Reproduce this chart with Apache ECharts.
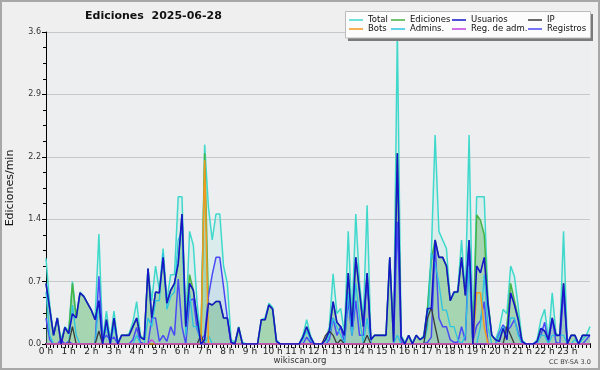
<!DOCTYPE html>
<html>
<head>
<meta charset="utf-8">
<script src="https://cdn.jsdelivr.net/npm/echarts@6/dist/echarts.min.js"></script>
<style>
html, body { margin: 0; padding: 0; background: #efefef; }
#chart { width: 600px; height: 370px; }
</style>
</head>
<body>
<div id="chart"></div>
<script>
// un punto cada 10 minutos, de 0 h a 24 h (145 puntos)
var paso = 10
var titulo = 'Ediciones  2025-06-28'

var total = [
    0.99, 0.45, 0.1, 0.3, 0.05, 0.2,
    0.15, 0.72, 0.32, 0.6, 0.55, 0.47,
    0.39, 0.3, 1.27, 0.05, 0.38, 0.05,
    0.38, 0.02, 0.1, 0.1, 0.12, 0.25,
    0.49, 0.1, 0.05, 0.87, 0.5, 0.9,
    0.62, 1.1, 0.5, 0.8, 0.8, 1.7,
    1.7, 0.2, 1.3, 1.14, 0.47, 0.05,
    2.3, 1.58, 1.2, 1.5, 1.5, 0.9,
    0.7, 0.05, 0.02, 0.2, 0.02, 0,
    0, 0, 0, 0.28, 0.3, 0.47,
    0.42, 0.05, 0, 0, 0, 0,
    0, 0, 0.1, 0.28, 0.1, 0,
    0, 0, 0.05, 0.2, 0.81, 0.35,
    0.41, 0.12, 1.3, 0.3, 1.5, 0.7,
    0.3, 1.6, 0.05, 0.1, 0.1, 0.1,
    0.1, 1.0, 0.05, 3.6, 0.1, 0.02,
    0.1, 0.02, 0.1, 0.05, 0.1, 0.43,
    1.05, 2.41, 1.3, 1.2, 1.1, 0.5,
    0.58, 0.62, 1.2, 0.58, 2.41, 0.03,
    1.7, 1.7, 1.7, 0.49, 0.1, 0.05,
    0.18, 0.4, 0.35, 0.9, 0.78, 0.43,
    0.05, 0, 0, 0, 0.05, 0.28,
    0.4, 0.05, 0.59, 0.12, 0.1, 1.3,
    0, 0.1, 0.1, 0, 0.1, 0.1,
    0.2
]
var ediciones = [
    0.7, 0.4, 0.1, 0.3, 0, 0.19,
    0.12, 0.7, 0.3, 0.59, 0.55, 0.47,
    0.39, 0.28, 0.5, 0, 0.28, 0,
    0.3, 0, 0.1, 0.1, 0.1, 0.2,
    0.3, 0.08, 0.05, 0.87, 0.3, 0.6,
    0.59, 1.0, 0.47, 0.62, 0.7, 0.93,
    1.5, 0.2, 0.8, 0.62, 0.3, 0,
    2.2, 0.47, 0.45, 0.49, 0.49, 0.3,
    0.3, 0.02, 0, 0.19, 0, 0,
    0, 0, 0, 0.28, 0.28, 0.45,
    0.4, 0.03, 0, 0, 0, 0,
    0, 0, 0.08, 0.2, 0.08, 0,
    0, 0, 0.05, 0.15, 0.49, 0.25,
    0.2, 0.1, 0.82, 0.2, 1.0, 0.6,
    0.2, 0.82, 0.05, 0.1, 0.1, 0.1,
    0.1, 1.0, 0.03, 2.2, 0.08, 0,
    0.1, 0, 0.1, 0.05, 0.08, 0.41,
    0.97, 1.2, 1.0, 1.0, 0.9, 0.5,
    0.6, 0.6, 1.0, 0.56, 1.2, 0,
    1.49, 1.43, 1.26, 0.49, 0.1, 0.05,
    0.05, 0.18, 0.2, 0.7, 0.5, 0.3,
    0.03, 0, 0, 0, 0.03, 0.18,
    0.15, 0.05, 0.3, 0.1, 0.1, 0.7,
    0, 0.1, 0.1, 0, 0.1, 0.1,
    0.1
]
var usuarios = [
    0.7, 0.4, 0.1, 0.3, 0, 0.19,
    0.12, 0.35, 0.3, 0.59, 0.55, 0.47,
    0.39, 0.28, 0.5, 0, 0.28, 0,
    0.3, 0, 0.1, 0.1, 0.1, 0.2,
    0.3, 0.08, 0.05, 0.87, 0.3, 0.6,
    0.59, 1.0, 0.47, 0.62, 0.7, 0.93,
    1.5, 0.2, 0.7, 0.62, 0.3, 0,
    0.05, 0.47, 0.45, 0.49, 0.49, 0.3,
    0.3, 0.02, 0, 0.19, 0, 0,
    0, 0, 0, 0.28, 0.28, 0.45,
    0.4, 0.03, 0, 0, 0, 0,
    0, 0, 0.08, 0.2, 0.08, 0,
    0, 0, 0.05, 0.15, 0.49, 0.25,
    0.2, 0.1, 0.82, 0.2, 1.0, 0.6,
    0.2, 0.82, 0.05, 0.1, 0.1, 0.1,
    0.1, 1.0, 0.03, 2.2, 0.08, 0,
    0.1, 0, 0.1, 0.05, 0.08, 0.41,
    0.41, 1.2, 1.0, 1.0, 0.9, 0.5,
    0.6, 0.6, 1.0, 0.56, 1.2, 0,
    0.9, 0.82, 1.0, 0.45, 0.1, 0.05,
    0.03, 0.18, 0.05, 0.59, 0.45, 0.28,
    0.03, 0, 0, 0, 0.03, 0.18,
    0.15, 0.05, 0.3, 0.1, 0.1, 0.7,
    0, 0.1, 0.1, 0, 0.1, 0.1,
    0.1
]
var registros = [
    0.3, 0.05, 0, 0, 0.05, 0,
    0.03, 0, 0, 0, 0, 0,
    0, 0, 0.78, 0.05, 0.1, 0.05,
    0.08, 0, 0, 0, 0, 0.05,
    0.19, 0.02, 0, 0, 0.3, 0.3,
    0.03, 0.1, 0.03, 0.2, 0.1, 0.75,
    0.2, 0, 0.5, 0.52, 0.17, 0.05,
    0.1, 0.55, 0.8, 1.0, 1.0, 0.66,
    0.3, 0, 0, 0, 0, 0,
    0, 0, 0, 0, 0, 0,
    0, 0, 0, 0, 0, 0,
    0, 0, 0, 0.08, 0.02, 0,
    0, 0, 0, 0.05, 0.3, 0.1,
    0.2, 0.02, 0.5, 0.1, 0.5, 0.1,
    0.1, 0.8, 0, 0, 0, 0,
    0, 0, 0, 1.41, 0.02, 0,
    0, 0, 0, 0, 0, 0.02,
    0.08, 1.16, 0.3, 0.2, 0.2, 0.05,
    0.02, 0.02, 0.2, 0.04, 1.16, 0.03,
    0.21, 0.27, 0.49, 0, 0, 0,
    0.13, 0.22, 0.15, 0.2, 0.28, 0.13,
    0.02, 0, 0, 0, 0.02, 0.1,
    0.25, 0, 0.29, 0.02, 0, 0.6,
    0, 0, 0, 0, 0, 0.05,
    0.1
]
var admins = [
    0.6, 0.1, 0, 0, 0, 0,
    0, 0.45, 0.1, 0, 0, 0,
    0, 0, 0.5, 0, 0.2, 0,
    0.2, 0, 0, 0, 0, 0,
    0.1, 0, 0, 0.3, 0.2, 0.5,
    0.5, 1.05, 0.4, 0.55, 0.6, 1.2,
    1.3, 0.1, 0.6, 0.2, 0.2, 0,
    0, 0.1, 0, 0, 0, 0,
    0, 0, 0, 0, 0, 0,
    0, 0, 0, 0, 0, 0,
    0, 0, 0, 0, 0, 0,
    0, 0, 0.05, 0.15, 0.05, 0,
    0, 0, 0, 0.1, 0.3, 0.2,
    0.1, 0, 0.6, 0.1, 0.7, 0.3,
    0, 0.3, 0, 0, 0, 0,
    0, 0, 0, 0.1, 0, 0,
    0, 0, 0, 0, 0, 0.2,
    1.05, 0.93, 0.7, 0.39, 0.39, 0.2,
    0.2, 0.05, 0, 0.1, 0.9, 0,
    0, 0.2, 0.8, 0.2, 0, 0,
    0.1, 0.2, 0.1, 0.3, 0.3, 0.1,
    0, 0, 0, 0, 0, 0.1,
    0.1, 0, 0.1, 0.1, 0.1, 0.1,
    0, 0, 0.05, 0, 0.05, 0.1,
    0.1
]
var ip = [
    0, 0, 0, 0, 0, 0,
    0, 0.2, 0, 0, 0, 0,
    0, 0, 0.15, 0, 0, 0,
    0, 0, 0, 0, 0, 0,
    0, 0, 0, 0, 0, 0,
    0, 0, 0, 0, 0, 0,
    0, 0, 0, 0, 0, 0.1,
    0, 0, 0, 0, 0, 0,
    0, 0, 0, 0, 0, 0,
    0, 0, 0, 0, 0, 0,
    0, 0, 0, 0, 0, 0,
    0, 0, 0, 0, 0, 0,
    0, 0, 0.1, 0.15, 0.1, 0,
    0.05, 0, 0, 0, 0, 0,
    0, 0.1, 0, 0, 0, 0,
    0, 0, 0, 0, 0, 0,
    0, 0, 0, 0, 0, 0.3,
    0.42, 0.2, 0, 0, 0, 0,
    0, 0, 0, 0, 0, 0,
    0, 0, 0, 0, 0, 0,
    0, 0, 0.2, 0.1, 0, 0,
    0, 0, 0, 0, 0, 0,
    0, 0, 0, 0, 0, 0,
    0, 0, 0, 0, 0, 0,
    0
]
var bots = [
    0, 0, 0, 0, 0, 0,
    0, 0, 0, 0, 0, 0,
    0, 0, 0, 0, 0, 0,
    0, 0, 0, 0, 0, 0,
    0, 0, 0, 0, 0, 0,
    0, 0, 0, 0, 0, 0,
    0, 0, 0, 0, 0, 0,
    2.12, 0, 0, 0, 0, 0,
    0, 0, 0, 0, 0, 0,
    0, 0, 0, 0, 0, 0,
    0, 0, 0, 0, 0, 0,
    0, 0, 0, 0, 0, 0,
    0, 0, 0, 0, 0, 0,
    0, 0, 0, 0, 0, 0,
    0, 0, 0, 0, 0, 0,
    0, 0, 0, 0, 0, 0,
    0, 0, 0, 0, 0, 0,
    0, 0, 0, 0, 0, 0,
    0, 0, 0, 0, 0, 0,
    0.59, 0.59, 0.2, 0, 0, 0,
    0, 0, 0, 0, 0, 0,
    0, 0, 0, 0, 0, 0,
    0, 0, 0, 0, 0, 0,
    0, 0, 0, 0, 0, 0,
    0
]
var regAdm = [
    0, 0, 0, 0, 0, 0,
    0, 0, 0, 0, 0, 0,
    0, 0, 0, 0, 0, 0,
    0, 0, 0, 0, 0, 0,
    0, 0, 0, 0, 0.05, 0,
    0, 0, 0, 0, 0, 0,
    0, 0, 0, 0, 0, 0,
    0, 0, 0, 0, 0, 0,
    0, 0, 0, 0, 0, 0,
    0, 0, 0, 0, 0, 0,
    0, 0, 0, 0, 0, 0,
    0, 0, 0, 0, 0, 0,
    0, 0, 0, 0, 0, 0,
    0, 0, 0, 0, 0, 0,
    0, 0, 0, 0, 0, 0,
    0, 0, 0, 0, 0, 0,
    0, 0, 0, 0, 0, 0,
    0, 0, 0, 0, 0, 0,
    0, 0, 0, 0, 0, 0,
    0, 0, 0, 0, 0, 0,
    0, 0, 0, 0, 0, 0,
    0, 0, 0, 0, 0, 0,
    0, 0, 0, 0, 0, 0,
    0, 0, 0, 0, 0, 0,
    0
]

var fuente = 'DejaVu Sans'

function serie(nombre, datos, color, ancho, relleno) {
    var s = {
        name: nombre,
        type: 'line',
        data: datos.map(function(v, i) { return [i * paso, v] }),
        symbol: 'none',
        lineStyle: { color: color, width: ancho },
        itemStyle: { color: color },
        silent: true
    }
    if (relleno) {
        s.areaStyle = { color: relleno, origin: 'start' }
    }
    return s
}

function leyenda(nombres, x) {
    return {
        data: nombres,
        orient: 'vertical',
        left: x,
        top: 15,
        itemGap: -1,
        itemWidth: 14,
        itemHeight: 1.5,
        itemTextGap: 4,
        icon: 'rect',
        selectedMode: false,
        padding: 0,
        textStyle: { fontFamily: fuente, fontSize: 8.5, color: '#111', lineHeight: 10, height: 10 },
        z: 10
    }
}

var myChart = echarts.init(document.getElementById('chart'), null, { renderer: 'canvas' })

var option = {
    animation: false,
    backgroundColor: '#efefef',
    title: {
        text: titulo,
        left: 85,
        top: 11,
        padding: 0,
        textStyle: { fontFamily: fuente, fontSize: 11, fontWeight: 'bold', color: '#111' }
    },
    legend: [
        leyenda(['Total', 'Bots'], 349),
        leyenda(['Ediciones', 'Admins.'], 391),
        leyenda(['Usuarios', 'Reg. de adm.'], 452),
        leyenda(['IP', 'Registros'], 528)
    ],
    graphic: [
        { type: 'rect', z: 0, shape: { x: 1, y: 1, width: 598, height: 368 },
          style: { fill: null, stroke: '#a8a8a8', lineWidth: 2 } },
        { type: 'rect', z: 5, shape: { x: 348, y: 14, width: 245, height: 27 },
          style: { fill: '#7a7a7a' } },
        { type: 'rect', z: 6, shape: { x: 345.5, y: 11.5, width: 245, height: 26.5 },
          style: { fill: '#fcfcfc', stroke: '#bbb', lineWidth: 1 } },
        { type: 'text', left: 'center', top: 356,
          style: { text: 'wikiscan.org', fontFamily: fuente, fontSize: 8.5, fill: '#333' } },
        { type: 'text', left: 549, top: 359,
          style: { text: 'CC BY-SA 3.0', fontFamily: fuente, fontSize: 6.5, fill: '#444' } }
    ],
    grid: {
        left: 46,
        right: 10,
        top: 32,
        bottom: 26,
        outerBoundsMode: 'none',
        containLabel: false,
        show: true,
        backgroundColor: '#eceef0',
        borderWidth: 0
    },
    xAxis: {
        type: 'value',
        min: 0,
        max: 1440,
        interval: 60,
        axisLine: { lineStyle: { color: '#000', width: 2 } },
        axisTick: { length: 4, lineStyle: { color: '#000' } },
        minorTick: { show: true, splitNumber: 6, length: 4, lineStyle: { color: '#000' } },
        splitLine: { show: false },
        axisLabel: {
            margin: 3,
            fontFamily: fuente,
            fontSize: 9,
            color: '#222',
            formatter: function(v) { return v < 1440 ? (v / 60) + ' h' : '' }
        }
    },
    yAxis: {
        type: 'value',
        min: 0,
        max: 3.6,
        interval: 0.72,
        name: 'Ediciones/min',
        nameLocation: 'middle',
        nameGap: 30,
        nameTextStyle: { fontFamily: fuente, fontSize: 11, color: '#111' },
        axisLine: { show: true, lineStyle: { color: '#000' } },
        axisTick: { show: true, length: 4, lineStyle: { color: '#000' } },
        minorTick: { show: true, splitNumber: 4, length: 3, lineStyle: { color: '#000' } },
        splitLine: { lineStyle: { color: '#c8c8c8' } },
        axisLabel: {
            margin: 5,
            fontFamily: fuente,
            fontSize: 8,
            color: '#333',
            formatter: function(v) { return v.toFixed(1) }
        }
    },
    series: [
        serie('Total', total, '#3fd9cc', 1.5, 'rgba(64,224,208,0.14)'),
        serie('Ediciones', ediciones, '#44b444', 1.5, 'rgba(70,170,70,0.5)'),
        serie('Registros', registros, '#4a4af5', 1.5, 'rgba(80,120,240,0.14)'),
        serie('Admins.', admins, '#2cc4e0', 1.3),
        serie('IP', ip, '#3a3a3a', 1.3),
        serie('Bots', bots, '#f39a1e', 1.5),
        serie('Reg. de adm.', regAdm, '#c040e0', 1.3),
        serie('Usuarios', usuarios, '#1616c8', 1.6)
    ]
}

myChart.setOption(option)
window.addEventListener('resize', function() {
    myChart.resize()
})
</script>
</body>
</html>
